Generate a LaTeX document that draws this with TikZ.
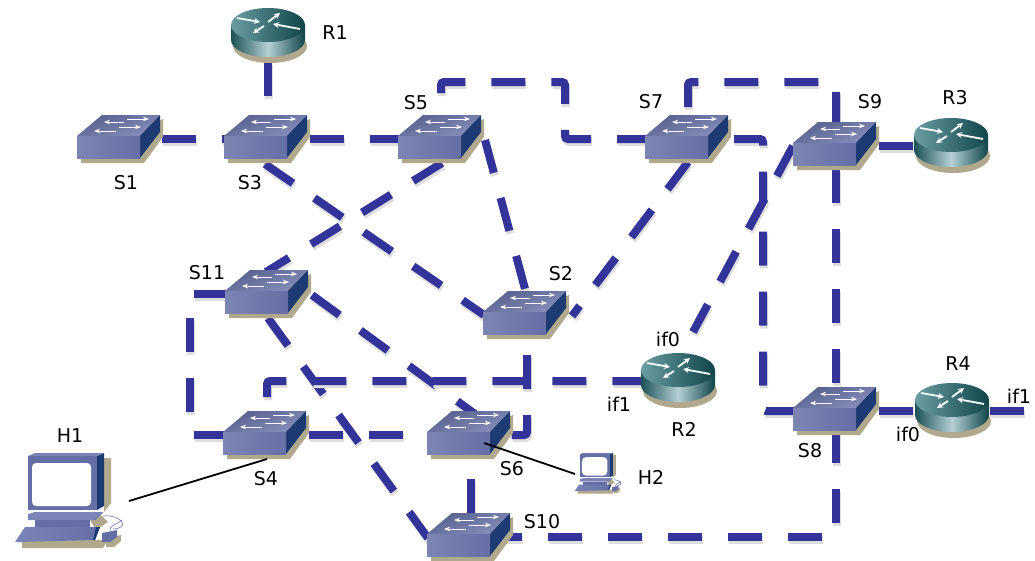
\documentclass[tikz,border=0pt]{standalone}
\usepackage{fontspec}
\setmainfont{DejaVu Sans}
\usetikzlibrary{backgrounds,arrows.meta}
\definecolor{linkblue}{HTML}{333399}
\definecolor{shadowtan}{HTML}{B0A98E}
\definecolor{swtop}{HTML}{7A84B6}
\definecolor{swfront}{HTML}{666FA5}
\definecolor{swside}{HTML}{1E3A72}
\definecolor{rttop}{HTML}{6A9EA3}
\definecolor{rtdark}{HTML}{0F4449}
\definecolor{rtlight}{HTML}{B4D0D4}
\tikzset{
	link/.style={preaction={draw=black!13, line width=8pt, dash pattern=on 34pt off 26pt, dash phase=#1pt,
			transform canvas={shift={(1pt,-3pt)}}},
		line width=8pt, draw=linkblue, dash pattern=on 34pt off 26pt, dash phase=#1pt, rounded corners=3pt},
	link/.default=0,
	wire/.style={line width=1.8pt, black},
	devnode/.style={inner sep=0pt, minimum size=0pt},
	lbl/.style={font=\fontsize{19}{21}\selectfont, inner sep=0pt},
	white arrow/.style={white, line width=0.8pt, -{Stealth[length=6pt,width=4.5pt]}},
	fat arrow/.style={white!92!rtlight, line width=1.8pt, -{Stealth[length=6pt,width=6pt]}},
	switch/.pic={
		\fill[shadowtan] (-37,15) -- (45,-20) -- (45,-2) -- (26,24) -- (-37,24) -- cycle;
		\shade[bottom color=swtop!90!white, top color=swfront!85!black, shading angle=20] (-41,-3) -- (-16,-24) -- (42,-24) -- (22,-3) -- cycle;
		\fill[swside] (22,-3) -- (42,-24) -- (42,-7) -- (22,19) -- cycle;
		\shade[left color=swfront!85!white, right color=swfront] (-41,-3) rectangle (22,19);
		\draw[white arrow] (6,-17) -- (-14,-17);
		\draw[white arrow] (9,-20) -- (31,-20);
		\draw[white arrow] (-2,-8) -- (-24,-8);
		\draw[white arrow] (1,-12) -- (23,-12);
	},
	router/.pic={
		\fill[shadowtan] (2,13) ellipse (37 and 17);
		\shade[left color=rtdark!85!rttop, right color=rtdark, middle color=rtlight]
			(-37,-8) -- (-37,7) arc (180:0:37 and 17) -- (37,-8) -- cycle;
		\shade[left color=rttop, right color=rtdark] (0,-8) ellipse (37 and 17);
		\draw[fat arrow] (-31,-15) -- (-8,-11);
		\draw[fat arrow] (-4,-7) -- (-15,0);
		\draw[fat arrow] (0,-11) -- (12,-20);
		\draw[fat arrow] (32,-4) -- (5,-9);
	},
	host/.pic={
		\fill[shadowtan] (44,-42) -- (51,-42) -- (51,3) -- (44,12) -- cycle;
		\fill[shadowtan] (40,14) -- (48,22) -- (36,30) -- (30,20) -- cycle;
		\fill[shadowtan] (-38,40) -- (48,40) -- (43,48) -- (-38,48) -- cycle;
		\fill[shadowtan] (46,38) -- (61,35) -- (61,41) -- (54,47) -- (46,47) -- cycle;
		\fill[swside] (37,-44) -- (44,-47) -- (44,6) -- (37,10) -- cycle;
		\fill[swtop] (-32,-44) -- (-25,-47) -- (44,-47) -- (37,-44) -- cycle;
		\fill[swfront] (-32,-44) rectangle (37,10);
		\fill[white, rounded corners=4pt] (-28,-37) rectangle (31,6);
		\fill[swside] (43,12) -- (35,20) -- (33,15) -- cycle;
		\fill[swtop] (-32,20) -- (-32,14) -- (-25,12) -- (43,12) -- (35,20) -- cycle;
		\fill[swfront] (-25,20) rectangle (30,27);
		\shade[left color=swtop, right color=swfront] (-35,27) -- (40,27) -- (35,40) -- (-45,42) -- cycle;
		\fill[swside] (40,27) -- (35,40) -- (33,40) -- (36,27) -- cycle;
		\fill[swfront] (42,33) -- (57,30) -- (57,37) -- (50,42) -- (42,42) -- cycle;
		\draw[swtop, line width=0.7pt] (43,16) .. controls (60,14) and (72,28) .. (53,29);
		\draw[swtop, line width=0.7pt] (50,31) .. controls (48,26) and (58,24) .. (62,20);
	}
}
\begin{document}
\begin{tikzpicture}[x=1pt, y=-1pt]
	\useasboundingbox (0,0) rectangle (1035,560);
	% the devices
	\foreach \n/\x/\y in {S1/118/139, S3/265/139, S5/439/139, S7/686/139, S9/834/146,
		S11/266/294, S2/524/315, S4/264/435, S6/468/435, S8/834/411, S10/468/537} {
		\node[devnode] (\n) at (\x,\y) {};
		\pic at (\n) {switch};
	}
	\foreach \n/\x/\y in {R1/268/33, R3/951/143, R2/678/378, R4/952/408} {
		\node[devnode] (\n) at (\x,\y) {};
		\pic at (\n) {router};
	}
	\node[devnode] (H1) at (60,500) {};
	\pic at (H1) {host};
	\node[devnode] (H2) at (594,473) {};
	\pic[scale=0.43] at (H2) {host};
	% bends of the links
	\coordinate (a1) at (441,82);
	\coordinate (a2) at (565,82);
	\coordinate (a3) at (565,139);
	\coordinate (b1) at (688,82);
	\coordinate (b2) at (836,82);
	\coordinate (c1) at (763,139);
	\coordinate (c2) at (763,411);
	\coordinate (d1) at (190,294);
	\coordinate (d2) at (190,435);
	\coordinate (e1) at (267,381);
	\coordinate (f1) at (527,435);
	\coordinate (g1) at (836,537);
	\coordinate (if1end) at (1024,411);
	% the links
	\begin{pgfonlayer}{background}
		\draw[link=31] (R1) -- ([xshift=3]S3.center);
		\draw[link=16] (S1) -- (S3);
		\draw[link=15] (S3) -- (S5);
		\draw[link=14] ([xshift=2]S5.center) -- (a1) -- (a2) -- (a3) -- (S7);
		\draw[link=28] ([xshift=2]S7.center) -- (b1) -- (b2) -- ([xshift=2]S9.center);
		\draw[link=12] (S7) -- (c1) -- (c2) -- (S8);
		\draw[link=37] ([xshift=2]S9.center) -- ([xshift=2]S8.center);
		\draw[link=15] (S9) -- ([shift={(0,3)}]R3.center);
		\draw[link=15] (S8) -- ([shift={(0,3)}]R4.center);
		\draw[link=0] ([shift={(0,25)}]S3.center) -- ([xshift=-40]S2.center);
		\draw[link=0] ([shift={(3,24)}]S5.center) -- ([shift={(0,-22)}]S11.center);
		\draw[link=0] ([shift={(46,1)}]S5.center) -- ([xshift=8]S2.center);
		\draw[link=0] ([shift={(2,23)}]S7.center) -- ([shift={(48,1)}]S2.center);
		\draw[link=0] ([xshift=-41]S9.center) -- ([shift={(15,-46)}]R2.center);
		\draw[link=22] (S11) -- (d1) -- (d2) -- (S4);
		\draw[link=0] ([shift={(46,1)}]S11.center) -- ([shift={(22,-10)}]S6.center);
		\draw[link=0] ([shift={(2,24)}]S11.center) -- ([shift={(-40,1)}]S10.center);
		\draw[link=15] (S4) -- (S6);
		\draw[link=22] ([xshift=3]S4.center) -- (e1) -- ([shift={(0,3)}]R2.center);
		\draw[link=20] ([xshift=3]S2.center) -- (f1) -- (S6);
		\draw[link=16] ([xshift=3]S6.center) -- ([xshift=3]S10.center);
		\draw[link=40] (S10) -- (g1) -- ([xshift=2]S8.center);
		\draw[link=22] ([shift={(0,3)}]R4.center) -- (if1end);
	\end{pgfonlayer}
	\draw[wire] ([shift={(3,24)}]S4.center) -- ([shift={(69,1)}]H1.center);
	\draw[wire] ([shift={(16,8)}]S6.center) -- ([shift={(-19,1)}]H2.center);
	% the labels
	\node[lbl] (lr1) at (335,33) {R1};
	\node[lbl] (ls1) at (126,183) {S1};
	\node[lbl] (ls3) at (250,183) {S3};
	\node[lbl] (ls5) at (416,103) {S5};
	\node[lbl] (ls7) at (651,102) {S7};
	\node[lbl] (ls9) at (870,102) {S9};
	\node[lbl] (lr3) at (955,98) {R3};
	\node[lbl] (ls11) at (207,273) {S11};
	\node[lbl] (ls2) at (561,274) {S2};
	\node[lbl] (lif0) at (668,339) {if0};
	\node[lbl] (lif1) at (619,404) {if1};
	\node[lbl] (lr2) at (684,429) {R2};
	\node[lbl] (lr4) at (958,364) {R4};
	\node[lbl] (lif0b) at (908,434) {if0};
	\node[lbl] (lif1b) at (1019,396) {if1};
	\node[lbl] (ls8) at (810,451) {S8};
	\node[lbl] (ls4) at (266,479) {S4};
	\node[lbl] (ls6) at (512,469) {S6};
	\node[lbl] (ls10) at (542,522) {S10};
	\node[lbl] (lh1) at (70,436) {H1};
	\node[lbl] (lh2) at (651,477) {H2};
\end{tikzpicture}
\end{document}
